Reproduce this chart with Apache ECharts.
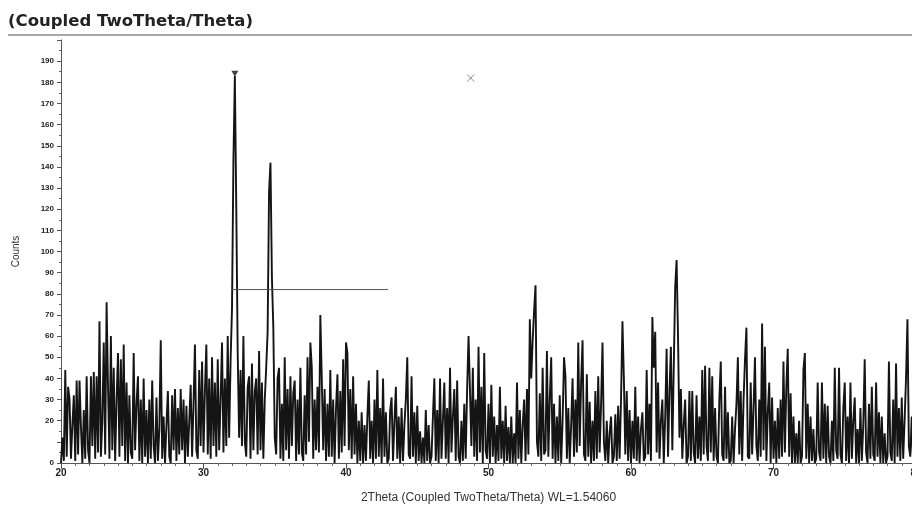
<!DOCTYPE html>
<html><head><meta charset="utf-8">
<script src="https://cdn.jsdelivr.net/npm/echarts@6/dist/echarts.min.js"></script>
<style>html,body{margin:0;padding:0;background:#fff}#c{width:912px;height:509px}</style>
</head><body><div id="c"></div>
<script>
const TITLE = '(Coupled TwoTheta/Theta)';
const X_NAME = '2Theta (Coupled TwoTheta/Theta) WL=1.54060';
const Y_NAME = 'Counts';
const SCAN_START = 20;
const SCAN_STEP = 0.1;

const counts20to30 = [
0,12,1,44,3,36,30,2,18,32,
1,39,4,39,17,0,25,2,41,6,
0,41,8,43,2,41,5,67,3,20,
57,4,76,36,2,60,6,45,1,30,
52,3,49,8,56,1,38,0,32,5,
2,52,6,28,41,1,30,0,40,3,
25,0,30,2,39,8,0,31,1,16,
58,2,22,0,18,34,3,0,32,6,
35,1,26,4,35,6,30,0,27,3,
20,37,3,28,56,6,2,44,8,48];
const counts30to40 = [
5,34,56,4,40,2,50,8,38,3,
49,6,30,57,5,40,8,60,12,48,
73,143,183,121,52,12,44,8,60,10,
3,36,41,2,47,6,34,40,4,53,
6,38,2,30,45,62,128,142,88,64,
12,4,40,45,2,28,1,50,6,35,
2,41,8,33,39,1,30,4,45,5,
1,32,4,50,10,57,45,2,30,6,
36,5,70,40,6,35,1,28,3,44,
3,30,0,26,42,2,34,5,49,8];
const counts40to50 = [
57,52,6,35,2,41,4,28,0,20,
1,24,0,18,1,22,39,2,20,0,
30,2,44,3,26,0,40,3,24,0,
2,25,31,1,20,36,2,22,0,26,
1,18,30,50,4,2,41,3,24,0,
27,1,15,0,12,0,25,1,18,0,
3,22,40,1,25,0,40,2,20,38,
2,26,0,45,5,22,35,1,39,3,
0,20,1,28,2,35,60,60,8,45,
3,30,1,55,5,36,0,52,6,2];
const counts50to60 = [
28,0,37,3,22,0,18,1,36,2,
20,0,27,1,17,0,22,0,14,0,
38,2,25,0,18,30,1,35,4,68,
40,58,72,84,10,3,33,1,45,4,
6,53,3,30,50,2,28,0,22,1,
32,0,20,50,41,2,26,0,18,40,
3,30,5,57,8,38,58,4,1,42,
3,29,0,20,1,34,2,41,5,28,
57,10,1,20,0,14,22,0,3,23,
1,27,2,30,67,40,4,34,1,25];
const counts60to70 = [
0,20,2,36,1,22,0,16,24,1,
3,44,4,28,1,69,45,62,5,38,
2,20,30,0,22,54,3,34,55,6,
45,83,96,60,12,35,2,18,30,0,
3,34,1,34,5,0,32,2,22,1,
44,4,46,8,1,45,5,41,1,26,
3,0,30,48,4,1,36,2,24,0,
1,22,0,16,28,50,4,34,1,30,
49,64,3,2,38,4,26,50,8,1,
30,3,66,6,55,1,24,38,0,31];
const counts70to80 = [
2,20,0,26,2,30,3,48,5,36,
54,3,33,0,22,0,14,0,20,0,
3,44,52,2,28,0,22,1,16,0,
2,38,5,1,38,2,28,0,27,3,
0,20,1,45,6,2,45,4,0,26,
38,1,22,0,38,2,20,31,0,16,
0,26,1,18,49,5,0,28,2,36,
4,1,38,3,24,0,22,0,14,0,
3,48,5,1,30,0,47,3,26,1,
31,2,20,40,68,8,3,22,1,18,
2];

const peakMarker = [32.2, 184];
const crossMarker = [48.75, 182];
const rulerStart = [31.95, 82];
const rulerEnd = [42.95, 82];

const allCounts = [].concat(counts20to30, counts30to40, counts40to50, counts50to60, counts60to70, counts70to80);
const scan = allCounts.map((c, i) => [+(SCAN_START + i * SCAN_STEP).toFixed(1), c]);

const FONT = 'Liberation Sans, Arial, sans-serif';
const chart = echarts.init(document.getElementById('c'), null, {renderer: 'canvas'});
chart.setOption({
  animation: false,
  backgroundColor: '#fff',
  title: {
    text: TITLE, left: 3, top: 8,
    textStyle: {fontFamily: 'DejaVu Sans', fontSize: 16.5, fontWeight: 'bold', color: '#222'}
  },
  graphic: [{
    type: 'line', shape: {x1: 8, y1: 35, x2: 912, y2: 35},
    style: {stroke: '#8a8a8a', lineWidth: 1.5}, silent: true
  }],
  grid: {left: 61, right: -4, top: 40, bottom: 46, outerBoundsMode: 'none', containLabel: false},
  xAxis: {
    type: 'value', min: 20, max: 80, interval: 10,
    name: X_NAME, nameLocation: 'middle', nameGap: 29,
    nameTextStyle: {fontFamily: FONT, fontSize: 12, color: '#333'},
    axisLine: {lineStyle: {color: '#555', width: 1}},
    axisTick: {show: true, length: 6, lineStyle: {color: '#555'}},
    minorTick: {show: true, splitNumber: 10, length: 3, lineStyle: {color: '#666'}},
    axisLabel: {fontFamily: FONT, fontSize: 10, fontWeight: 'bold', color: '#222', margin: 5, showMaxLabel: true},
    splitLine: {show: false}
  },
  yAxis: {
    type: 'value', min: 0, max: 200, interval: 10,
    name: Y_NAME, nameLocation: 'middle', nameGap: 40, nameRotate: 90,
    nameTextStyle: {fontFamily: FONT, fontSize: 10, color: '#333'},
    axisLine: {show: true, lineStyle: {color: '#555', width: 1}},
    axisTick: {show: true, length: 4, lineStyle: {color: '#555'}},
    minorTick: {show: true, splitNumber: 2, length: 2, lineStyle: {color: '#666'}},
    axisLabel: {
      fontFamily: FONT, fontSize: 8, fontWeight: 'bold', color: '#222', margin: 7,
      formatter: v => (v === 10 || v === 200) ? '' : String(v)
    },
    splitLine: {show: false}
  },
  series: [
    {
      type: 'line', data: scan, symbol: 'none', sampling: null,
      lineStyle: {color: '#141414', width: 1.9}, z: 2
    },
    {
      type: 'line', data: [rulerStart, rulerEnd], symbol: 'none',
      lineStyle: {color: '#555', width: 1}, z: 3
    },
    {
      type: 'scatter', data: [peakMarker], symbol: 'triangle', symbolRotate: 180,
      symbolSize: [7, 6], itemStyle: {color: '#111'}, z: 4
    },
    {
      type: 'scatter', data: [crossMarker],
      symbol: 'path://M0,0L10,10M10,0L0,10', symbolSize: 7,
      itemStyle: {color: 'transparent', borderColor: '#666', borderWidth: 1}, z: 4
    }
  ]
});
</script></body></html>
